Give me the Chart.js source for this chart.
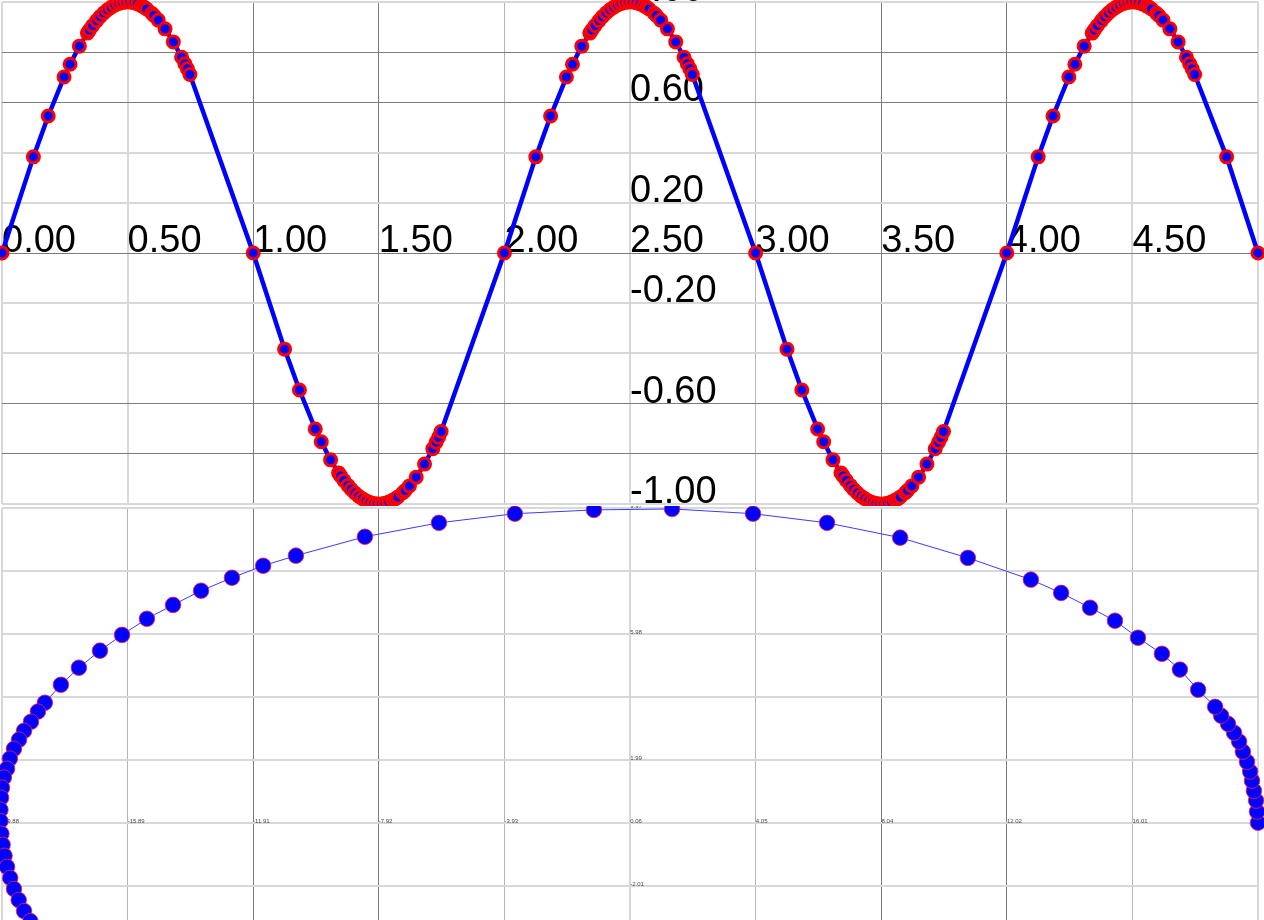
<!DOCTYPE html>
<html>
<head>
<meta charset="utf-8">
<script src="https://cdn.jsdelivr.net/npm/chart.js@4.4.1/dist/chart.umd.min.js"></script>
<style>
  html, body { margin: 0; padding: 0; background: #fff; overflow: hidden; }
  #wrap { width: 1264px; height: 920px; overflow: hidden; position: relative; }
  canvas { display: block; position: absolute; left: 0; }
  #sine { top: 0; }
  #ellipse { top: 506px; }
</style>
</head>
<body>
<div id="wrap">
  <canvas id="sine" width="1264" height="506"></canvas>
  <canvas id="ellipse" width="1264" height="640"></canvas>
</div>
<script>
/* Two stacked charts: a sampled sine wave and a sampled ellipse.
 * Tick labels are painted along the middle grid lines by a small plugin. */

// ---- sine chart data ----
var sineXTicks = [0, 0.5, 1, 1.5, 2, 2.5, 3, 3.5, 4, 4.5, 5];
var sineYTicks = [-1, -0.8, -0.6, -0.4, -0.2, 0, 0.2, 0.4, 0.6, 0.8, 1];

var sineX = [
  0, 0.125, 0.184, 0.247, 0.271, 0.308, 0.34, 0.348, 0.361, 0.377, 0.39, 0.405, 0.42, 0.435, 0.45, 0.465, 0.48, 0.495, 0.51, 0.525, 0.54, 0.555, 0.566, 0.576, 0.596, 0.605, 0.622, 0.649, 0.682, 0.715, 0.728, 0.738, 0.748,
  1, 1.125, 1.184, 1.247, 1.271, 1.308, 1.34, 1.348, 1.361, 1.377, 1.39, 1.405, 1.42, 1.435, 1.45, 1.465, 1.48, 1.495, 1.51, 1.525, 1.54, 1.555, 1.566, 1.576, 1.596, 1.605, 1.622, 1.649, 1.682, 1.715, 1.728, 1.738, 1.748,
  2, 2.125, 2.184, 2.247, 2.271, 2.308, 2.34, 2.348, 2.361, 2.377, 2.39, 2.405, 2.42, 2.435, 2.45, 2.465, 2.48, 2.495, 2.51, 2.525, 2.54, 2.555, 2.566, 2.576, 2.596, 2.605, 2.622, 2.649, 2.682, 2.715, 2.728, 2.738, 2.748,
  3, 3.125, 3.184, 3.247, 3.271, 3.308, 3.34, 3.348, 3.361, 3.377, 3.39, 3.405, 3.42, 3.435, 3.45, 3.465, 3.48, 3.495, 3.51, 3.525, 3.54, 3.555, 3.566, 3.576, 3.596, 3.605, 3.622, 3.649, 3.682, 3.715, 3.728, 3.738, 3.748,
  4, 4.125, 4.184, 4.247, 4.271, 4.308, 4.34, 4.348, 4.361, 4.377, 4.39, 4.405, 4.42, 4.435, 4.45, 4.465, 4.48, 4.495, 4.51, 4.525, 4.54, 4.555, 4.566, 4.576, 4.596, 4.605, 4.622, 4.649, 4.682, 4.715, 4.728, 4.738, 4.748,
  4.875, 5
];
var sineY = [
  0, 0.383, 0.546, 0.701, 0.752, 0.824, 0.876, 0.888, 0.906, 0.926, 0.941, 0.956, 0.969, 0.979, 0.988, 0.994, 0.998, 1, 1, 0.997, 0.992, 0.985, 0.979, 0.972, 0.955, 0.946, 0.928, 0.893, 0.841, 0.78, 0.754, 0.734, 0.711,
  0, -0.383, -0.546, -0.701, -0.752, -0.824, -0.876, -0.888, -0.906, -0.926, -0.941, -0.956, -0.969, -0.979, -0.988, -0.994, -0.998, -1, -1, -0.997, -0.992, -0.985, -0.979, -0.972, -0.955, -0.946, -0.928, -0.893, -0.841, -0.78, -0.754, -0.734, -0.711,
  0, 0.383, 0.546, 0.701, 0.752, 0.824, 0.876, 0.888, 0.906, 0.926, 0.941, 0.956, 0.969, 0.979, 0.988, 0.994, 0.998, 1, 1, 0.997, 0.992, 0.985, 0.979, 0.972, 0.955, 0.946, 0.928, 0.893, 0.841, 0.78, 0.754, 0.734, 0.711,
  0, -0.383, -0.546, -0.701, -0.752, -0.824, -0.876, -0.888, -0.906, -0.926, -0.941, -0.956, -0.969, -0.979, -0.988, -0.994, -0.998, -1, -1, -0.997, -0.992, -0.985, -0.979, -0.972, -0.955, -0.946, -0.928, -0.893, -0.841, -0.78, -0.754, -0.734, -0.711,
  0, 0.383, 0.546, 0.701, 0.752, 0.824, 0.876, 0.888, 0.906, 0.926, 0.941, 0.956, 0.969, 0.979, 0.988, 0.994, 0.998, 1, 1, 0.997, 0.992, 0.985, 0.979, 0.972, 0.955, 0.946, 0.928, 0.893, 0.841, 0.78, 0.754, 0.734, 0.711,
  0.383, 0
];

// ---- ellipse chart data ----
var ellipseXTicks = [-19.88, -15.89, -11.91, -7.92, -3.93, 0.06, 4.05, 8.04, 12.02, 16.01, 19.99];
var ellipseYTicks = [-9.99, -8.00, -6.00, -4.01, -2.01, -0.01, 1.99, 3.98, 5.98, 7.97, 9.97];

var ellipseX = [
  19.99, 19.96, 19.93, 19.86, 19.80, 19.74, 19.64, 19.51, 19.39, 19.23, 19.04, 18.82, 18.63, 18.09, 17.51, 16.94,
  16.18, 15.45, 14.66, 13.74, 12.78, 10.78, 8.63, 6.31, 3.96, 1.39,
  -1.09, -3.60, -6.01, -8.36, -10.55, -11.59, -12.58, -13.56, -14.45, -15.28, -16.07, -16.77, -17.44, -18.01,
  -18.52, -18.74, -18.96, -19.18, -19.34, -19.50, -19.63, -19.72, -19.82, -19.88, -19.91, -19.93, -19.93,
  -19.90, -19.86, -19.80, -19.72, -19.62, -19.50, -19.35, -19.18, -18.98, -18.76, -18.50
];
var ellipseY = [
  0, 0.35, 0.70, 1.01, 1.33, 1.62, 1.93, 2.25, 2.57, 2.85, 3.13, 3.39, 3.67, 4.21, 4.85, 5.35,
  5.86, 6.40, 6.81, 7.28, 7.70, 8.39, 9.03, 9.50, 9.79, 9.94,
  9.91, 9.79, 9.50, 9.06, 8.46, 8.14, 7.76, 7.35, 6.90, 6.46, 5.95, 5.45, 4.91, 4.37,
  3.80, 3.52, 3.20, 2.91, 2.63, 2.34, 2.03, 1.71, 1.43, 1.11, 0.79, 0.41, 0.05,
  -0.35, -0.70, -1.05, -1.40, -1.75, -2.10, -2.45, -2.80, -3.12, -3.45, -3.80
];

// grid shading per line (the reference mixes crisp dark and soft light lines)
var DARK = '#7c7c7c', MID = '#b4b4b4', LIGHT = '#d8d8d8';
var sineGridX = [LIGHT, LIGHT, DARK, DARK, MID, LIGHT, MID, DARK, DARK, LIGHT, LIGHT];
var sineGridY = [LIGHT, DARK, DARK, LIGHT, LIGHT, DARK, LIGHT, LIGHT, DARK, DARK, LIGHT];
var ellipseGridX = [LIGHT, MID, DARK, DARK, MID, LIGHT, MID, DARK, DARK, MID, LIGHT];

function pts(xs, ys) {
  return xs.map(function (x, i) { return { x: x, y: ys[i] }; });
}

// draws tick labels along the middle grid row / column, under the data
var middleLabels = {
  id: 'middleLabels',
  beforeDatasetsDraw: function (chart, args, opts) {
    var xs = chart.scales.x, ys = chart.scales.y, ctx = chart.ctx;
    var xt = xs.ticks, yt = ys.ticks;
    var x0 = xs.getPixelForValue(xt[Math.floor(xt.length / 2)].value);
    var y0 = ys.getPixelForValue(yt[Math.floor(yt.length / 2)].value);
    ctx.save();
    ctx.font = opts.font;
    ctx.fillStyle = opts.color;
    ctx.textAlign = 'left';
    ctx.textBaseline = 'alphabetic';
    xt.forEach(function (t, i) {
      if (i === xt.length - 1) return;
      ctx.fillText(t.value.toFixed(2), xs.getPixelForValue(t.value) + opts.dx, y0 - opts.dy);
    });
    yt.forEach(function (t, i) {
      if (i % 2) return;
      ctx.fillText(t.value.toFixed(2), x0 + opts.dx, ys.getPixelForValue(t.value) - opts.dy);
    });
    ctx.restore();
  }
};

function axis(min, max, tickVals, colors) {
  return {
    type: 'linear', min: min, max: max,
    afterBuildTicks: function (s) { s.ticks = tickVals.map(function (v) { return { value: v }; }); },
    ticks: { display: false },
    border: { display: false },
    grid: {
      drawTicks: false,
      color: function (c) { return colors[c.index]; },
      lineWidth: function (c) { return colors[c.index] === LIGHT ? 2 : 1; }
    }
  };
}

Chart.defaults.font.family = '"Liberation Sans", Arial, sans-serif';

new Chart(document.getElementById('sine'), {
  type: 'scatter',
  data: {
    datasets: [{
      data: pts(sineX, sineY),
      showLine: true,
      borderColor: '#0000ff', borderWidth: 4.5,
      pointBackgroundColor: '#0000ff', pointBorderColor: '#ff0000',
      pointBorderWidth: 3, pointRadius: 6,
      clip: false
    }]
  },
  options: {
    responsive: false, animation: false, events: [],
    layout: { autoPadding: false, padding: { left: 2, right: 6, top: 2, bottom: 2 } },
    plugins: {
      legend: { display: false }, tooltip: { enabled: false },
      middleLabels: { font: '38px "Liberation Sans", Arial, sans-serif', color: '#000', dx: 0, dy: 1 }
    },
    scales: {
      x: axis(0, 5, sineXTicks, sineGridX),
      y: axis(-1, 1, sineYTicks, sineGridY)
    }
  },
  plugins: [middleLabels]
});

new Chart(document.getElementById('ellipse'), {
  type: 'scatter',
  data: {
    datasets: [{
      data: pts(ellipseX, ellipseY),
      showLine: true,
      borderColor: '#3a3aff', borderWidth: 1,
      pointBackgroundColor: '#0000ff', pointBorderColor: '#ff2040',
      pointBorderWidth: 0.8, pointRadius: 7.8,
      clip: false
    }]
  },
  options: {
    responsive: false, animation: false, events: [],
    layout: { autoPadding: false, padding: { left: 2, right: 6, top: 2, bottom: 8 } },
    plugins: {
      legend: { display: false }, tooltip: { enabled: false },
      middleLabels: { font: '6px "Liberation Sans", Arial, sans-serif', color: '#445', dx: 0, dy: 0 }
    },
    scales: {
      x: axis(-19.88, 19.99, ellipseXTicks, ellipseGridX),
      y: axis(-9.99, 9.97, ellipseYTicks, [LIGHT, LIGHT, LIGHT, LIGHT, LIGHT, LIGHT, LIGHT, LIGHT, LIGHT, LIGHT, LIGHT])
    }
  },
  plugins: [middleLabels]
});
</script>
</body>
</html>
